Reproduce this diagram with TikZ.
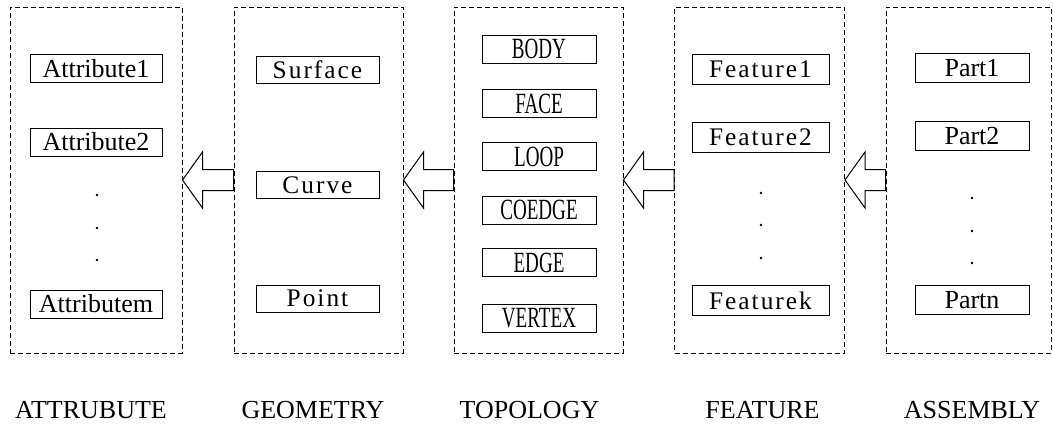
\documentclass[tikz,border=0pt]{standalone}
\usepackage{fontspec}
\setmainfont{Liberation Serif}
\newfontfamily\narrowfont[FakeStretch=0.65]{Liberation Serif}
\newfontfamily\simfont[LetterSpace=8]{Liberation Serif}
\usetikzlibrary{calc}

\tikzset{every picture/.style={line width=0.75pt}}
\tikzset{
  panel/.style={draw, dash pattern=on 3.75pt off 2.25pt, minimum height=259.5pt, inner sep=0pt},
  itembox/.style={draw, line width=0.6pt, inner sep=0pt, minimum height=21pt},
  attrbox/.style={itembox, minimum width=99pt, font=\fontsize{19.5}{22}\selectfont},
  geombox/.style={itembox, minimum width=92.25pt, minimum height=20.25pt, font=\simfont\fontsize{19}{22}\selectfont},
  topobox/.style={itembox, minimum width=85.5pt, font=\narrowfont\fontsize{22}{24}\selectfont},
  featbox/.style={itembox, minimum width=102.75pt, minimum height=22.5pt, font=\simfont\fontsize{19}{22}\selectfont},
  partbox/.style={itembox, minimum width=85.5pt, minimum height=21.75pt, font=\fontsize{19.5}{22}\selectfont},
  layername/.style={inner sep=0.75pt, font=\fontsize{19.5}{22}\selectfont},
}
% block arrow pointing from panel #2 back to panel #1
\newcommand{\leftblock}[2]{%
  \draw [fill=white] (#1.east) -- ++(20,-28) -- ++(0,17.5) -- ($(#2.west)+(0,-10.5)$) -- ($(#2.west)+(0,10.5)$) -| ($(#1.east)+(20,28)$) -- cycle ;}

\begin{document}
\begin{tikzpicture}[x=0.75pt,y=0.75pt,yscale=-1,xscale=1]
    \useasboundingbox (0,0) rectangle (1053,425);

    %Shape: Rectangle [panels]
    \node [panel, minimum width=129pt] (att) at (96,180) {};
    \node [panel, minimum width=126.75pt] (geo) at (318.5,180) {};
    \node [panel, minimum width=126.75pt] (topo) at (538.5,180) {};
    \node [panel, minimum width=127.5pt] (feat) at (759.5,180) {};
    \node [panel, minimum width=123.75pt] (asm) at (968.5,180) {};

    %Shape: Block arrows
    \leftblock{att}{geo}
    \leftblock{geo}{topo}
    \leftblock{topo}{feat}
    \leftblock{feat}{asm}

    % Text Node [attribute layer]
    \node [attrbox] (attr1) at (96,68.5) {Attribute1};
    \node [attrbox] (attr2) at (96,142) {Attribute2};
    \node [attrbox] (attrm) at (96,304) {Attributem};
    \fill (97,195) circle (1.3) ;
    \fill (97,228) circle (1.3) ;
    \fill (97,260) circle (1.3) ;

    % Text Node [geometry layer]
    \node [geombox] (surf) at (317.5,70) {Surface};
    \node [geombox] (curve) at (317.5,185) {Curve};
    \node [geombox] (point) at (317.5,298.5) {Point};

    % Text Node [topology layer]
    \node [topobox] (body) at (539,49) {BODY};
    \node [topobox] (face) at (539,103.5) {FACE};
    \node [topobox] (loop) at (539,156.5) {LOOP};
    \node [topobox] (coedge) at (539,210) {COEDGE};
    \node [topobox] (edge) at (539,262.5) {EDGE};
    \node [topobox] (vertex) at (539,318) {VERTEX};

    % Text Node [feature layer]
    \node [featbox] (feat1) at (760.5,69) {Feature1};
    \node [featbox] (feat2) at (760.5,137) {Feature2};
    \node [featbox] (featk) at (760.5,300.5) {Featurek};
    \fill (761,193) circle (1.3) ;
    \fill (761,225) circle (1.3) ;
    \fill (761,258) circle (1.3) ;

    % Text Node [assembly layer]
    \node [partbox] (part1) at (972,68) {Part1};
    \node [partbox] (part2) at (972,136) {Part2};
    \node [partbox] (partn) at (972,300) {Partn};
    \fill (972,198) circle (1.3) ;
    \fill (972,231) circle (1.3) ;
    \fill (972,263) circle (1.3) ;

    % Text Node [layer names]
    \node [layername] (attname) at (91,410) {ATTRUBUTE};
    \node [layername] (geoname) at (313,410) {GEOMETRY};
    \node [layername] (toponame) at (529.5,410) {TOPOLOGY};
    \node [layername] (featname) at (762.5,410) {FEATURE};
    \node [layername] (asmname) at (972,410) {ASSEMBLY};

\end{tikzpicture}
\end{document}
